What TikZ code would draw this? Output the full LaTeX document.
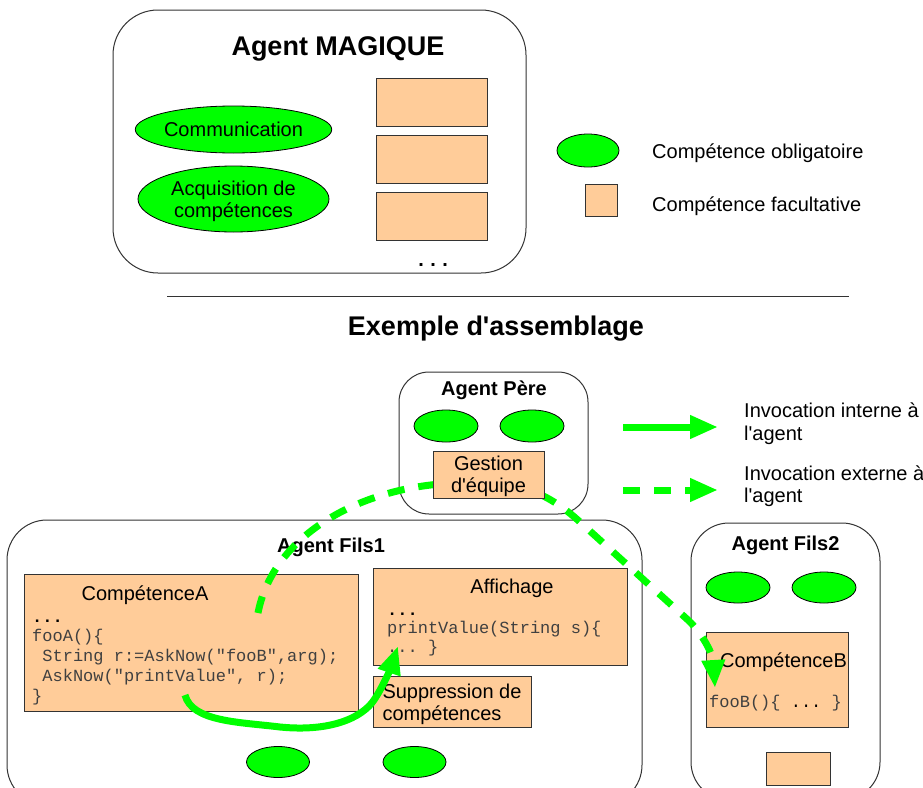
\documentclass[tikz,border=0pt]{standalone}
\usepackage{fontspec}
\setmainfont{Liberation Sans}
\setmonofont{Liberation Mono}
\usepackage{tikz}
\usetikzlibrary{arrows.meta,positioning}
\usetikzlibrary{shapes.geometric}
\definecolor{cGreen}{HTML}{00FF00}
\definecolor{cPeach}{HTML}{FFCC99}
\definecolor{cLine}{HTML}{333333}
\tikzset{ag/.style={draw=cLine, fill=white, inner sep=0pt, line width=1pt}}
\tikzset{ob/.style={ellipse, draw=black, fill=cGreen, inner sep=0pt, line width=0.8pt}}
\tikzset{fa/.style={rectangle, draw=cLine, fill=cPeach, inner sep=0pt, line width=1pt}}
\tikzset{inv/.style={draw, line width=7pt, cGreen, -{Triangle[length=28pt,width=22pt]}}}
\tikzset{ext/.style={inv, dash pattern=on 17pt off 14pt}}

\begin{document}
\begin{tikzpicture}[x=1pt,y=-1pt]
        \tikzstyle{every node}=[font=\fontsize{20}{22.5}\selectfont]
        \tikzstyle{big}=[font=\fontsize{27}{30}\selectfont\bfseries]
        \tikzstyle{hd}=[font=\fontsize{20}{22.5}\selectfont\bfseries]
        \tikzstyle{code}=[font=\fontsize{17}{20}\selectfont\ttfamily, text=black!75,
        align=left, inner sep=0pt]
        \useasboundingbox (0,0) rectangle (923,787);
        \clip (0,0) rectangle (923,787);
        %% agent MAGIQUE
        \node (mag) at (319.5,141.5) [ag, rounded corners=45pt, minimum width=413pt, minimum height=263pt] {};
        \node (magT) at (338,55) [big, anchor=base] {Agent MAGIQUE};
        \node (comm) at (233.5,129.5) [ob, minimum width=191pt, minimum height=47pt] {Communication};
        \node (acq) at (233.5,199) [ob, minimum width=191pt, minimum height=66pt, align=center, text height=42pt] {Acquisition de\\compétences};
        \node (f1) at (431.5,102) [fa, minimum width=111pt, minimum height=48pt] {};
        \node (f2) at (431.5,159) [fa, minimum width=111pt, minimum height=48pt] {};
        \node (f3) at (431.5,216) [fa, minimum width=111pt, minimum height=48pt] {};
        \node (fdots) at (433,266) [anchor=base, font=\fontsize{20}{22}\selectfont\ttfamily\bfseries] {...};
        %% legende
        \node (legO) at (588,150.5) [ob, minimum width=62pt, minimum height=33pt] {};
        \node (legOT) at (652,158) [anchor=base west, inner sep=0pt] {Compétence obligatoire};
        \node (legF) at (601,200) [fa, minimum width=32pt, minimum height=32pt] {};
        \node (legFT) at (652,211) [anchor=base west, inner sep=0pt] {Compétence facultative};
        \draw [cLine, line width=1pt] (167,296) -- (849,296);
        \node (ex) at (496,335) [big, anchor=base] {Exemple d\textquotesingle assemblage};
        %% agent pere
        \node (pere) at (493.5,443) [ag, rounded corners=30pt, minimum width=189pt, minimum height=142pt] {};
        \node (pereT) at (494,395) [hd, anchor=base] {Agent Père};
        \node (p1) at (446,426) [ob, minimum width=64pt, minimum height=32pt] {};
        \node (p2) at (532,426) [ob, minimum width=64pt, minimum height=32pt] {};
        %% agent fils1
        \node (fils1) at (324.5,662.5) [ag, rounded corners=40pt, minimum width=635pt, minimum height=285pt] {};
        \node (fils1T) at (331,552) [hd, anchor=base] {Agent Fils1};
        \node (ca) at (191,642.5) [fa, minimum width=334pt, minimum height=137pt] {};
        \node (caT) at (145,600) [anchor=base] {CompétenceA};
        \node (caC) at (32,701) [code, anchor=base west] {\textcolor{black}{\textbf{...}}\\[-1pt]
          fooA()\{\\ \ String r:=AskNow("fooB",arg);\\ \ AskNow("printValue", r);\\ \}};
        \node (aff) at (500,616.5) [fa, minimum width=254pt, minimum height=97pt] {};
        \node (affT) at (512,593) [anchor=base] {Affichage};
        \node (affC) at (387,652) [code, anchor=base west] {\textcolor{black}{\textbf{...}}\\[-2pt]
          printValue(String s)\{\\[-1pt] ... \}};
        \node (supp) at (452,701.5) [fa, minimum width=158pt, minimum height=51pt, align=left, text height=43pt] {Suppression de\\compétences};
        \node (s1) at (278,762) [ob, minimum width=63pt, minimum height=31pt] {};
        \node (s2) at (414.5,762) [ob, minimum width=63pt, minimum height=31pt] {};
        %% agent fils2
        \node (fils2) at (785.5,661.5) [ag, rounded corners=38pt, minimum width=189pt, minimum height=277pt] {};
        \node (fils2T) at (785.5,550) [hd, anchor=base] {Agent Fils2};
        \node (q1) at (738,587.5) [ob, minimum width=64pt, minimum height=31pt] {};
        \node (q2) at (824,587.5) [ob, minimum width=64pt, minimum height=31pt] {};
        \node (cb) at (777,679.5) [fa, minimum width=142pt, minimum height=95pt] {};
        \node (cbT) at (783.5,667) [anchor=base] {CompétenceB};
        \node (cbC) at (709,707) [code, anchor=base west] {fooB()\{ \textcolor{black}{...} \}};
        \node (q3) at (798,768.5) [fa, minimum width=64pt, minimum height=33pt] {};
        %% legende des fleches
        \coordinate (li1) at (623,427); \coordinate (li2) at (718,427);
        \coordinate (le1) at (623,490); \coordinate (le2) at (718,490);
        \draw [inv] (li1) -- (li2);
        \draw [ext] (le1) -- (le2);
        \node (liT) at (744,423.5) [anchor=west, align=left, inner sep=0pt] {Invocation interne à\\l\textquotesingle agent};
        \node (leT) at (744,486) [anchor=west, align=left, inner sep=0pt] {Invocation externe à\\l\textquotesingle agent};
        %% invocations
        \coordinate (askB) at (258,613);
        \coordinate (fooB) at (715,688);
        \draw [ext] (askB) .. controls (272,540) and (350,492) .. (440,484)
          .. controls (510,476) and (545,490) .. (580,522) -- (688,620)
          .. controls (703,634) and (713,655) .. (fooB);
        \coordinate (fooA) at (185,695);
        \coordinate (printV) at (398,646);
        \draw [inv] (fooA) .. controls (192,722) and (240,722) .. (280,727)
          .. controls (330,732) and (362,718) .. (374,700)
          .. controls (381,690) and (390,670) .. (printV);
        \node (gest) at (488.5,474.5) [fa, minimum width=111pt, minimum height=47pt, align=center, text height=41pt] {Gestion\\d\textquotesingle équipe};
    \end{tikzpicture}
\end{document}
